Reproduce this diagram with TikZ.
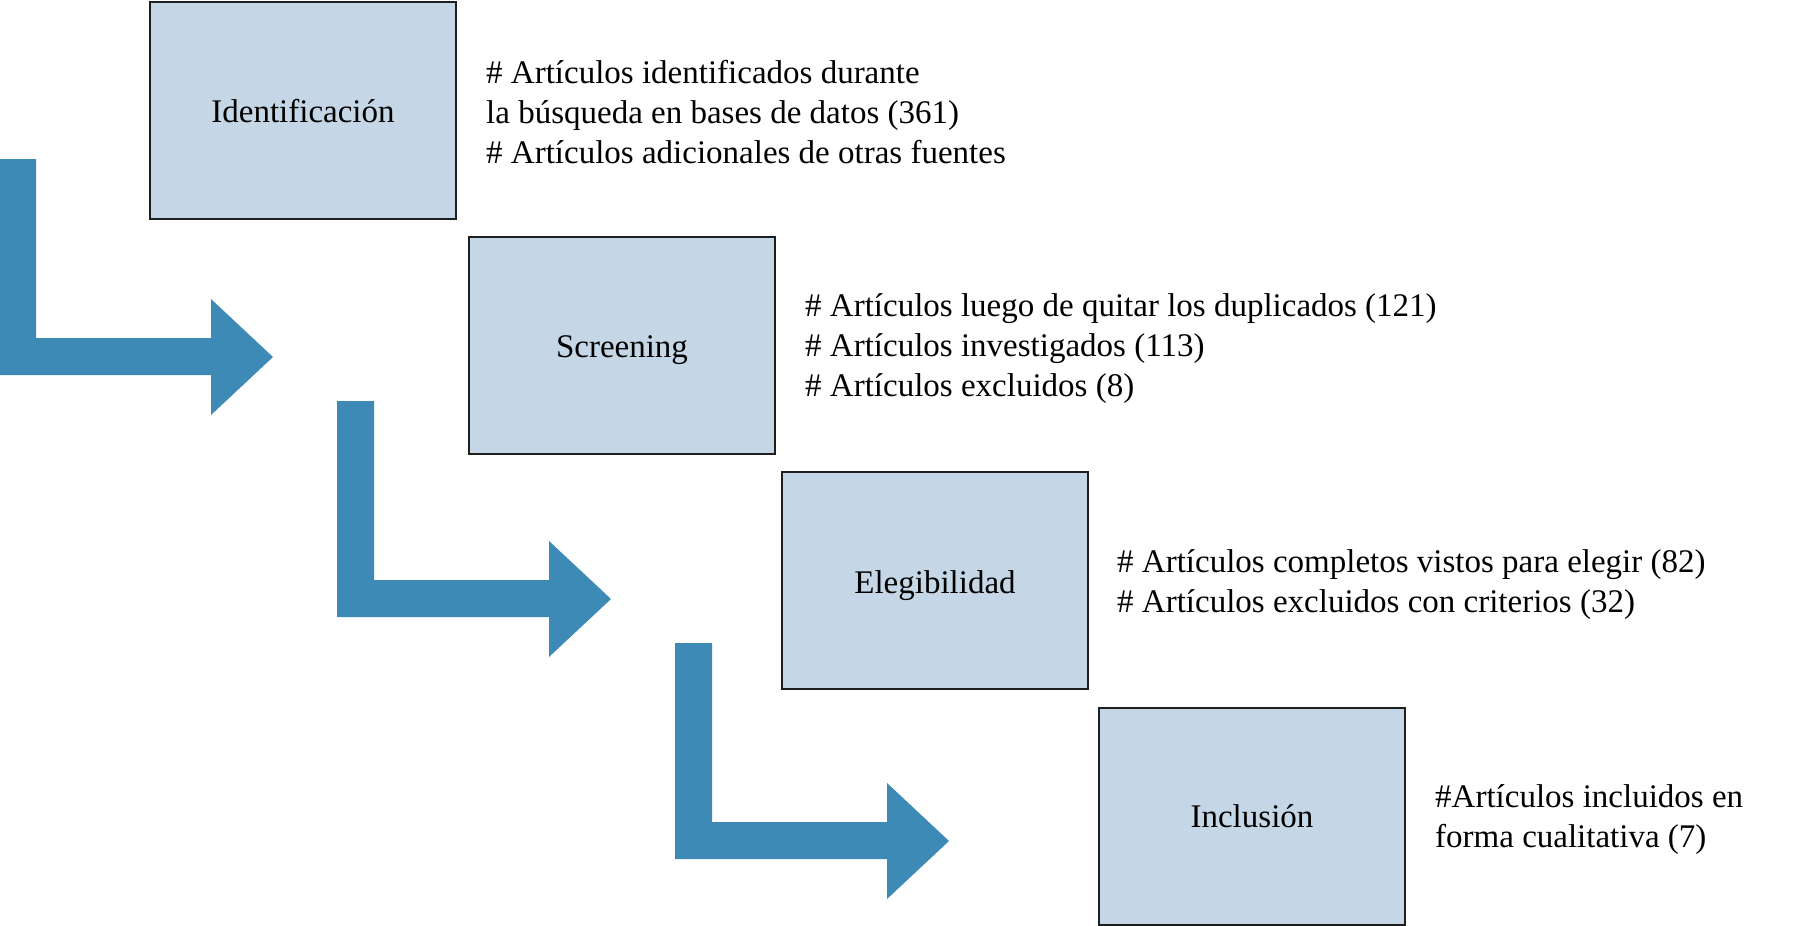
\documentclass[tikz,border=0pt]{standalone}
\usepackage{fontspec}
\setmainfont{Liberation Serif}
\definecolor{boxfill}{RGB}{197,214,230}
\definecolor{arrowblue}{RGB}{60,138,181}
\definecolor{boxline}{RGB}{30,30,30}
\begin{document}
\begin{tikzpicture}[x=1pt,y=-1pt,
  stagebox/.style={draw=boxline,line width=2pt,fill=boxfill,minimum width=306pt,minimum height=217pt,inner sep=0pt},
  boxlabel/.style={inner sep=0pt,font=\fontsize{33}{40}\selectfont},
  infotext/.style={anchor=west,align=left,inner sep=0pt,font=\fontsize{33}{40}\selectfont},
  bentarrow/.style={fill=arrowblue,draw=none}]
\useasboundingbox (0,0) rectangle (1800,926);
\node[stagebox] (id) at (303,110) {};
\node[stagebox] (scr) at (622,345) {};
\node[stagebox] (ele) at (935,580) {};
\node[stagebox] (inc) at (1252,816) {};
\node[boxlabel] (idl) at ([yshift=-1pt]id.center) {Identificación};
\node[boxlabel] (scrl) at ([yshift=-5pt]scr.center) {Screening};
\node[boxlabel] (elel) at ([yshift=-6pt]ele.center) {Elegibilidad};
\node[boxlabel] (incl) at (inc.center) {Inclusión};
\node[infotext] (tid) at (486,112) {\# Artículos identificados durante\\la búsqueda en bases de datos (361)\\\# Artículos adicionales de otras fuentes};
\node[infotext] (tscr) at (805,349) {\# Artículos luego de quitar los duplicados (121)\\\# Artículos investigados (113)\\\# Artículos excluidos (8)};
\node[infotext] (tele) at (1117,585) {\# Artículos completos vistos para elegir (82)\\\# Artículos excluidos con criterios (32)};
\node[infotext] (tinc) at (1435,820) {\#Artículos incluidos en\\forma cualitativa (7)};
\foreach \k in {0,1,2}{
  \pgfmathsetmacro{\ox}{-1+338*\k}
  \pgfmathsetmacro{\oy}{242*\k}
  \fill[bentarrow] (\ox,159+\oy) -- (\ox+37,159+\oy) -- (\ox+37,338+\oy) -- (\ox+212,338+\oy) -- (\ox+212,299+\oy) -- (\ox+274,357+\oy) -- (\ox+212,415+\oy) -- (\ox+212,375+\oy) -- (\ox,375+\oy) -- cycle;
}
\end{tikzpicture}
\end{document}
